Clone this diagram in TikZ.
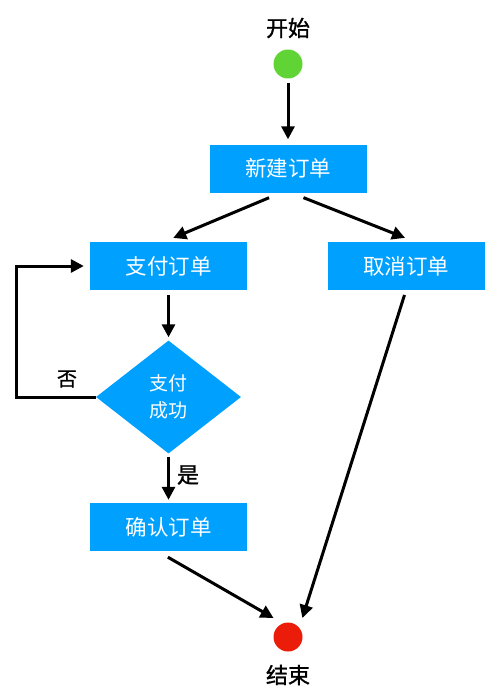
\documentclass[tikz,border=0pt]{standalone}
\usepackage{fontspec}
\setmainfont{Noto Sans CJK SC}
\newfontfamily\lblfont[FakeBold=1.2]{Noto Sans CJK SC}
\usetikzlibrary{shapes.geometric,arrows.meta}
\definecolor{boxblue}{RGB}{0,160,255}
\definecolor{startgreen}{RGB}{96,212,52}
\definecolor{endred}{RGB}{236,28,10}
\begin{document}
\begin{tikzpicture}[x=1pt,y=-1pt,
		box/.style={fill=boxblue,text=white,minimum width=157pt,minimum height=48pt,inner sep=0pt,font=\fontsize{21.5}{25}\selectfont},
		check/.style={diamond,fill=boxblue,text=white,minimum width=145pt,minimum height=113pt,inner sep=0pt,align=center,font=\fontsize{19}{27}\selectfont},
		dot/.style={circle,minimum size=29pt,inner sep=0pt},
		lbl/.style={inner sep=0pt,font=\fontsize{22}{26}\lblfont},
		arr/.style={line width=3pt,-{Triangle[length=13pt,width=13pt]}}]
		\useasboundingbox (0,0) rectangle (500,698);
		\node[lbl] (starttext) at (288,28) {开始};
		\node[dot,fill=startgreen] (start) at (288,64) {};
		\node[box] (new) at (288,168.5) {新建订单};
		\node[box] (pay) at (168.5,266) {支付订单};
		\node[box] (cancel) at (406,266) {取消订单};
		\node[check] (ok) at (168.5,397) {支付\\成功};
		\node[box] (confirm) at (168.5,527) {确认订单};
		\node[dot,fill=endred] (finish) at (288,637) {};
		\node[lbl] (endtext) at (288,675) {结束};
		\node[lbl,font=\fontsize{20}{24}\lblfont] (no) at (67,379) {否};
		\node[lbl] (yes) at (188,475) {是};
		\coordinate (loop) at (16,397);
		\draw[arr,shorten <=4.5pt,shorten >=5pt] (start.south) -- (new.north);
		\draw[arr,shorten <=13pt,shorten >=10pt] ([xshift=-7pt]new.south) -- ([xshift=-4.5pt]pay.north);
		\draw[arr,shorten <=13.4pt,shorten >=10.7pt] ([xshift=3pt]new.south) -- ([xshift=9pt]cancel.north);
		\draw[arr,shorten <=5pt,shorten >=3pt] (pay.south) -- (ok.north);
		\draw[arr,shorten >=6pt,line join=miter] (ok.west) -- (loop) |- (pay.west);
		\draw[arr,shorten <=3pt,shorten >=3pt] (ok.south) -- (confirm.north);
		\draw[arr,shorten <=12pt,shorten >=4pt] ([xshift=-11pt]confirm.south) -- ([xshift=-11pt,yshift=17pt]finish.center);
		\draw[arr,shorten <=5pt,shorten >=4.5pt] (cancel.south) -- ([xshift=13pt]finish.north);
\end{tikzpicture}
\end{document}
